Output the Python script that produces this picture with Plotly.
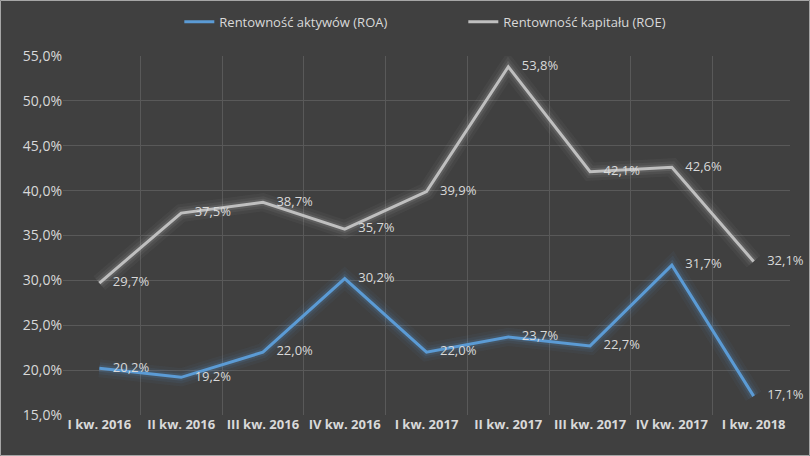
import plotly.graph_objects as go

quarters = ["I kw. 2016", "II kw. 2016", "III kw. 2016", "IV kw. 2016", "I kw. 2017",
            "II kw. 2017", "III kw. 2017", "IV kw. 2017", "I kw. 2018"]
roa = [20.2, 19.2, 22.0, 30.2, 22.0, 23.7, 22.7, 31.7, 17.1]
roe = [29.7, 37.5, 38.7, 35.7, 39.9, 53.8, 42.1, 42.6, 32.1]

BG = "#404040"
TXT = "#D9D9D9"
W, H = 810, 456
ML, MR, MT, MB = 63, 20, 56, 41


def pct(vals):
    # leading nbsp pushes the label off the point, like Excel's "right" position
    return ["\u00a0\u00a0\u00a0\u00a0" + f"{v:.1f}%".replace(".", ",") for v in vals]


fig = go.Figure()

series = [
    ("Rentowność aktywów (ROA)", roa, "#5B9BD5", "rgba(91,155,213,{a})"),
    ("Rentowność kapitału (ROE)", roe, "#BFBFBF", "rgba(190,190,190,{a})"),
]

# soft glow under each line
for name, vals, col, glow in series:
    for w, a in [(18, 0.05), (12, 0.08), (7, 0.14)]:
        fig.add_trace(go.Scatter(
            x=quarters, y=vals, mode="lines",
            line=dict(color=glow.format(a=a), width=w),
            showlegend=False, hoverinfo="skip",
        ))

for name, vals, col, glow in series:
    fig.add_trace(go.Scatter(
        x=quarters, y=vals, name=name, mode="lines+text",
        line=dict(color=col, width=3),
        text=pct(vals), textposition="middle right", cliponaxis=False,
        textfont=dict(color=TXT, size=13, family="Open Sans, sans-serif"),
    ))

# thin frame around the whole chart
pw, ph = W - ML - MR, H - MT - MB
fig.add_shape(type="rect", xref="paper", yref="paper",
              x0=-(ML - 0.5) / pw, x1=1 + (MR - 0.5) / pw,
              y0=-(MB - 0.5) / ph, y1=1 + (MT - 0.5) / ph,
              line=dict(color="#A6A6A6", width=1), layer="below")

fig.update_layout(
    width=W, height=H,
    paper_bgcolor=BG, plot_bgcolor=BG,
    margin=dict(l=ML, r=MR, t=MT, b=MB, autoexpand=False),
    separators=", ",
    font=dict(family="Open Sans, sans-serif", color=TXT, size=13),
    legend=dict(orientation="h", x=0.16, xanchor="left", y=1.095, yanchor="middle",
                font=dict(size=13, color=TXT), entrywidth=239),
    xaxis=dict(
        type="category", tickson="boundaries", showgrid=True,
        gridcolor="#595959", gridwidth=1, zeroline=False,
        tickfont=dict(size=13, color=TXT, family="Open Sans, sans-serif", weight="bold"),
        ticks="", showline=False,
    ),
    yaxis=dict(
        range=[15, 55], dtick=5, tickformat=".1f", ticksuffix="%",
        showgrid=True, gridcolor="#595959", gridwidth=1, zeroline=False,
        tickfont=dict(size=14, color=TXT), ticks="", showline=False,
    ),
)

fig.write_html("out.html", config={"displayModeBar": False},
               post_script="document.body.style.margin='0';")
